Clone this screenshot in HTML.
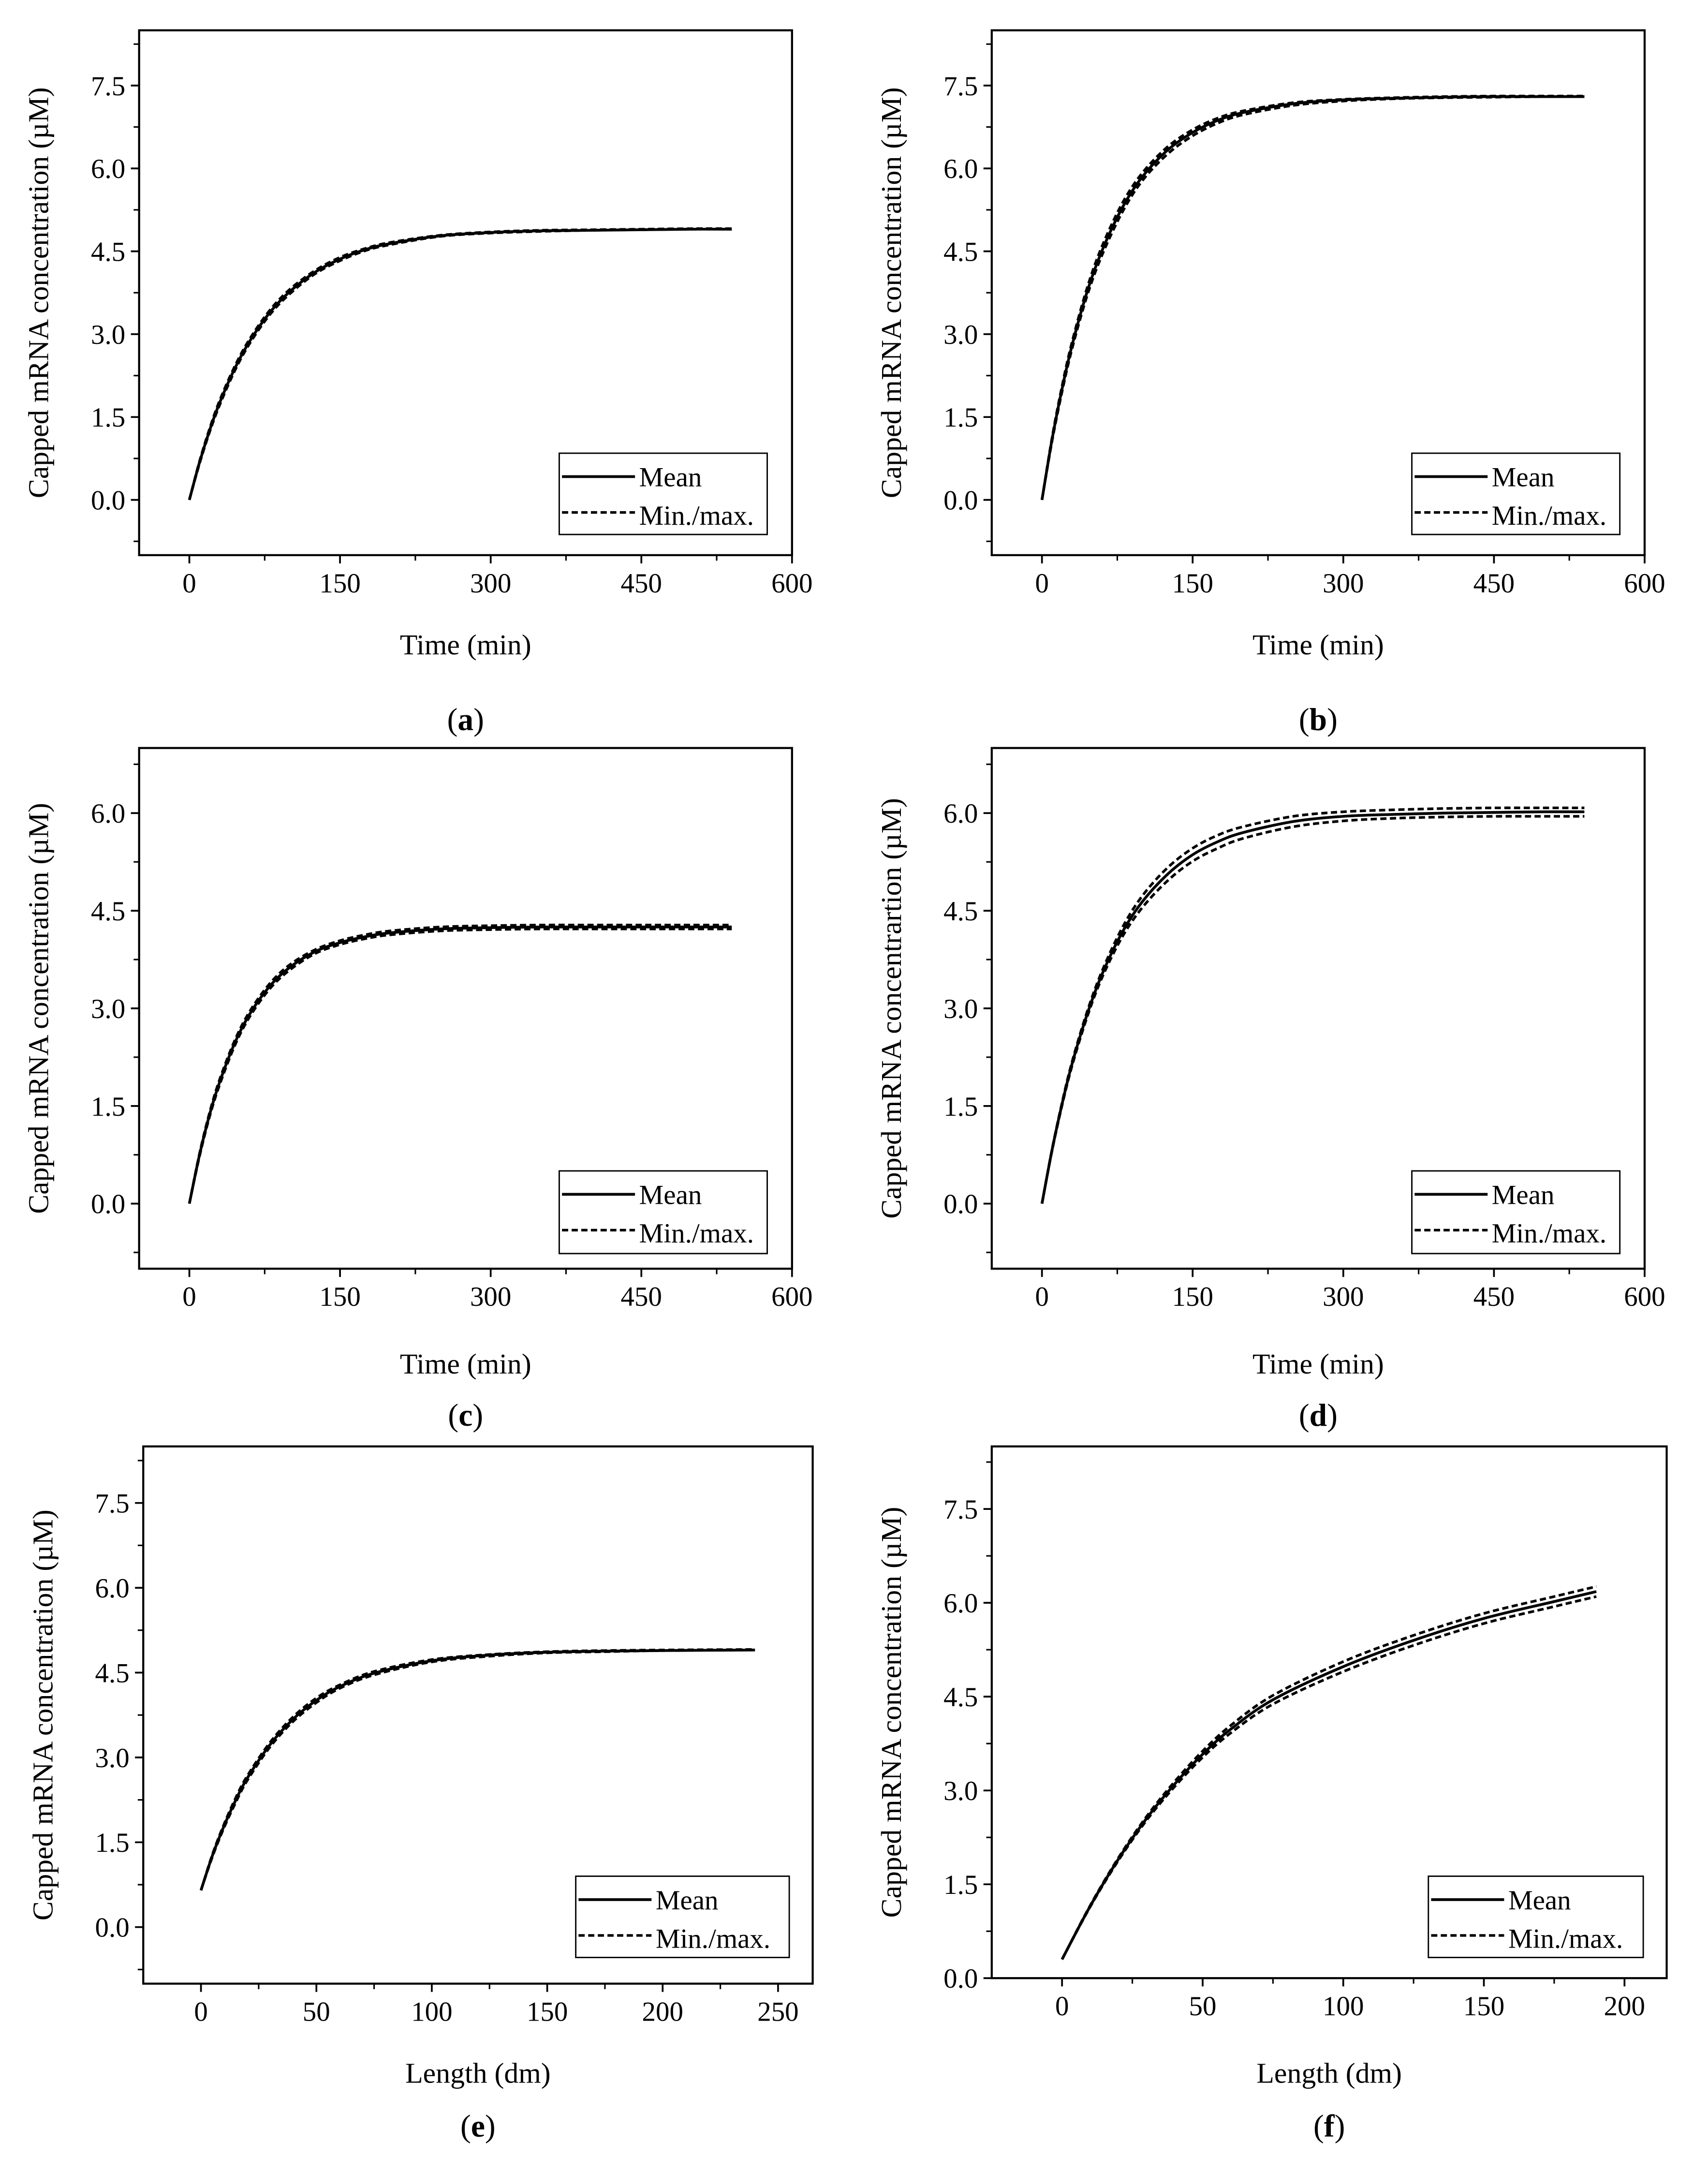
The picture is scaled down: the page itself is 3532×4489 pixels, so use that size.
<!DOCTYPE html>
<html><head><meta charset="utf-8">
<style>
html,body{margin:0;padding:0;background:#fff;}
svg{display:block;}
text{font-family:"Liberation Serif",serif;fill:#000;}
</style></head>
<body>
<svg id="fig" width="3532" height="4489" viewBox="0 0 1240 1576" xmlns="http://www.w3.org/2000/svg"></svg>
<script>
// ---- data ----
const tA = [0,10,20,30,45,60,80,100,125,150,175,200,250,300,350,400,450,500,540];
const meanA = [0,0.67,1.25,1.75,2.37,2.87,3.39,3.77,4.12,4.36,4.53,4.64,4.78,4.84,4.87,4.88,4.89,4.9,4.9];
const maxA  = [0,0.69,1.28,1.79,2.41,2.91,3.43,3.81,4.15,4.39,4.55,4.66,4.79,4.85,4.88,4.89,4.9,4.91,4.91];
const minA  = [0,0.65,1.22,1.71,2.33,2.83,3.35,3.73,4.09,4.33,4.51,4.62,4.77,4.83,4.86,4.88,4.89,4.9,4.9];

const meanB = [0,1.09,2.01,2.80,3.77,4.52,5.29,5.85,6.33,6.65,6.87,7.01,7.17,7.24,7.27,7.29,7.3,7.3,7.3];
const maxB  = [0,1.12,2.06,2.86,3.84,4.60,5.37,5.92,6.39,6.70,6.91,7.04,7.19,7.25,7.28,7.3,7.31,7.31,7.31];
const minB  = [0,1.06,1.96,2.74,3.70,4.44,5.21,5.78,6.26,6.59,6.82,6.97,7.14,7.22,7.26,7.28,7.29,7.3,7.3];

const meanC = [0,0.74,1.36,1.86,2.46,2.91,3.34,3.63,3.87,4.01,4.10,4.16,4.22,4.24,4.25,4.25,4.25,4.25,4.25];
const maxC  = [0,0.76,1.39,1.90,2.50,2.95,3.38,3.67,3.90,4.04,4.13,4.19,4.25,4.27,4.28,4.28,4.28,4.28,4.28];
const minC  = [0,0.72,1.33,1.82,2.42,2.87,3.30,3.59,3.84,3.98,4.07,4.13,4.19,4.21,4.22,4.22,4.22,4.22,4.22];

const meanD = [0,0.82,1.53,2.15,2.91,3.53,4.17,4.64,5.06,5.36,5.56,5.70,5.87,5.95,5.98,6.0,6.01,6.02,6.02];
const maxD  = [0,0.83,1.55,2.18,2.95,3.58,4.24,4.73,5.16,5.46,5.66,5.79,5.95,6.02,6.05,6.07,6.08,6.08,6.08];
const minD  = [0,0.81,1.51,2.12,2.87,3.48,4.10,4.55,4.96,5.26,5.46,5.61,5.79,5.88,5.92,5.94,5.95,5.95,5.95];

const xE = [0,5,10,15,20,30,40,50,60,75,100,125,150,175,200,240];
const meanE = [0.65,1.27,1.79,2.24,2.63,3.23,3.68,4.01,4.25,4.49,4.71,4.81,4.86,4.88,4.89,4.9];
const maxE  = [0.65,1.29,1.82,2.28,2.67,3.27,3.72,4.05,4.28,4.52,4.73,4.82,4.87,4.89,4.9,4.91];
const minE  = [0.65,1.25,1.76,2.20,2.59,3.19,3.64,3.97,4.22,4.46,4.69,4.79,4.85,4.87,4.89,4.9];

const xF = [0,10,20,30,40,50,60,75,100,125,150,175,190];
const meanF = [0.3,1.15,1.9,2.55,3.1,3.58,3.98,4.45,4.98,5.4,5.75,6.02,6.18];
const maxF  = [0.3,1.16,1.92,2.58,3.14,3.63,4.04,4.52,5.06,5.48,5.83,6.10,6.26];
const minF  = [0.3,1.14,1.88,2.52,3.06,3.53,3.92,4.38,4.90,5.32,5.67,5.94,6.10];

const ticksTime = [0,150,300,450,600];
const ticksE = [0,50,100,150,200,250];
const ticksF = [0,50,100,150,200];
const ticksY85 = [0,1.5,3.0,4.5,6.0,7.5];
const ticksY7 = [0,1.5,3.0,4.5,6.0];

const svg = document.getElementById('fig');
const NS = 'http://www.w3.org/2000/svg';
function mk(tag, attrs, parent){
  const e = document.createElementNS(NS, tag);
  for (const k in attrs) e.setAttribute(k, attrs[k]);
  (parent||svg).appendChild(e);
  return e;
}
function smoothPath(pts){
  let d = 'M'+pts[0][0].toFixed(2)+','+pts[0][1].toFixed(2);
  for (let i=0;i<pts.length-1;i++){
    const p0=pts[Math.max(0,i-1)], p1=pts[i], p2=pts[i+1], p3=pts[Math.min(pts.length-1,i+2)];
    const c1=[p1[0]+(p2[0]-p0[0])/6, p1[1]+(p2[1]-p0[1])/6];
    const c2=[p2[0]-(p3[0]-p1[0])/6, p2[1]-(p3[1]-p1[1])/6];
    d+=' C'+c1.map(v=>v.toFixed(2)).join(',')+' '+c2.map(v=>v.toFixed(2)).join(',')+' '+p2[0].toFixed(2)+','+p2[1].toFixed(2);
  }
  return d;
}

function panel(cfg){
  const g = mk('g', {});
  
  
  const {L,R,T,B,x0,x1,y0,y1} = cfg;
  const sx = v => L + (v-x0)/(x1-x0)*(R-L);
  const sy = v => B - (v-y0)/(y1-y0)*(B-T);
  const xstep = cfg.xt[1]-cfg.xt[0];
  cfg.xt.forEach(v=>{
    const t = mk('line',{x1:sx(v),x2:sx(v),y1:B,y2:B+6,stroke:'#000','stroke-width':1.3},g);
    
    
    const lb = mk('text',{x:sx(v),y:B+27,'text-anchor':'middle','font-size':20},g);
    
    
    lb.textContent = String(v);
  });
  for (let v = cfg.xt[0]+xstep/2; v < x1; v += xstep){
    mk('line',{x1:sx(v),x2:sx(v),y1:B,y2:B+4,stroke:'#000','stroke-width':1.1},g);
  }
  for (let v = cfg.xt[0]-xstep/2; v > x0; v -= xstep){
    mk('line',{x1:sx(v),x2:sx(v),y1:B,y2:B+4,stroke:'#000','stroke-width':1.1},g);
  }
  cfg.yt.forEach(v=>{
    const t = mk('line',{x1:L,x2:L-6,y1:sy(v),y2:sy(v),stroke:'#000','stroke-width':1.3},g);
    
    
    const lb = mk('text',{x:L-10,y:sy(v)+7,'text-anchor':'end','font-size':20},g);
    
    
    lb.textContent = v.toFixed(1);
  });
  for (let v = -0.75; v < y1; v += 1.5){
    if (v > y0) mk('line',{x1:L,x2:L-4,y1:sy(v),y2:sy(v),stroke:'#000','stroke-width':1.1},g);
  }
  const fr = mk('rect',{x:L,y:T,width:R-L,height:B-T,fill:'none',stroke:'#000','stroke-width':1.5},g);
  
  
  const toPts = arr => arr.map((v,i)=>[sx(cfg.xs[i]), sy(v)]);
  const pMax = mk('path',{d:smoothPath(toPts(cfg.max)),fill:'none',stroke:'#000','stroke-width':1.9,'stroke-dasharray':'4.5,2.5'},g);
  
  
  const pMin = mk('path',{d:smoothPath(toPts(cfg.min)),fill:'none',stroke:'#000','stroke-width':1.9,'stroke-dasharray':'4.5,2.5'},g);
  
  
  const pMean = mk('path',{d:smoothPath(toPts(cfg.mean)),fill:'none',stroke:'#000','stroke-width':2},g);
  
  
  const lg = mk('g',{},g);
  
  
  const [lx,ly,lw,lh] = cfg.leg;
  mk('rect',{x:lx,y:ly,width:lw,height:lh,fill:'#fff',stroke:'#000','stroke-width':1},lg);
  mk('line',{x1:lx+2,x2:lx+55,y1:ly+17,y2:ly+17,stroke:'#000','stroke-width':2},lg);
  const t1 = mk('text',{x:lx+58,y:ly+24,'font-size':20},lg);
  
  
  t1.textContent='Mean';
  mk('line',{x1:lx+2,x2:lx+55,y1:ly+43,y2:ly+43,stroke:'#000','stroke-width':1.9,'stroke-dasharray':'4.5,2.5'},lg);
  const t2 = mk('text',{x:lx+58,y:ly+52,'font-size':20},lg);
  
  
  t2.textContent='Min./max.';
  const yt = mk('text',{x:0,y:0,'text-anchor':'middle','font-size':21,transform:'translate('+(L-66)+','+((T+B)/2)+') rotate(-90)'},g);
  
  
  yt.textContent = cfg.ytitle;
  const xt = mk('text',{x:(L+R)/2,y:cfg.xty,'text-anchor':'middle','font-size':21},g);
  
  
  xt.textContent = cfg.xtitle;
  const pl = mk('text',{x:(L+R)/2,y:cfg.ply,'text-anchor':'middle','font-size':23},g);
  
  
  pl.innerHTML = '(<tspan font-weight="bold">'+cfg.id+'</tspan>)';
}
const YT = 'Capped mRNA concentration (\u00B5M)';
panel({id:'a',L:101,R:575,T:22,B:403,x0:-50,x1:600,y0:-1,y1:8.5,xt:ticksTime,yt:ticksY85,xs:tA,mean:meanA,max:maxA,min:minA,leg:[406,329,151,59],ytitle:YT,xtitle:'Time (min)',xty:475,ply:530});
panel({id:'b',L:720,R:1194,T:22,B:403,x0:-50,x1:600,y0:-1,y1:8.5,xt:ticksTime,yt:ticksY85,xs:tA,mean:meanB,max:maxB,min:minB,leg:[1025,329,151,59],ytitle:YT,xtitle:'Time (min)',xty:475,ply:530});
panel({id:'c',L:101,R:575,T:543,B:921,x0:-50,x1:600,y0:-1,y1:7,xt:ticksTime,yt:ticksY7,xs:tA,mean:meanC,max:maxC,min:minC,leg:[406,850,151,60],ytitle:YT,xtitle:'Time (min)',xty:997,ply:1035});
panel({id:'d',L:720,R:1194,T:543,B:921,x0:-50,x1:600,y0:-1,y1:7,xt:ticksTime,yt:ticksY7,xs:tA,mean:meanD,max:maxD,min:minD,leg:[1025,850,151,60],ytitle:'Capped mRNA concentrartion (\u00B5M)',xtitle:'Time (min)',xty:997,ply:1035});
panel({id:'e',L:104,R:590,T:1050,B:1440,x0:-25,x1:265,y0:-1,y1:8.5,xt:ticksE,yt:ticksY85,xs:xE,mean:meanE,max:maxE,min:minE,leg:[418,1362,155,59],ytitle:YT,xtitle:'Length (dm)',xty:1512,ply:1551});
panel({id:'f',L:720,R:1210,T:1050,B:1436,x0:-25,x1:215,y0:0,y1:8.5,xt:ticksF,yt:ticksY85,xs:xF,mean:meanF,max:maxF,min:minF,leg:[1037,1362,156,59],ytitle:YT,xtitle:'Length (dm)',xty:1512,ply:1551});
</script>
</body></html>
